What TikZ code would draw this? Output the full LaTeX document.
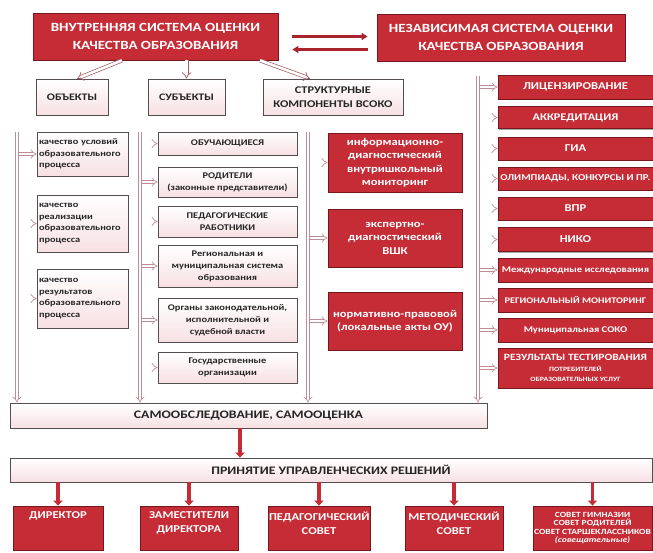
\documentclass[tikz,border=0pt]{standalone}
\usepackage{fontspec}
\setmainfont{Carlito}[FakeStretch=1.2]
\usetikzlibrary{arrows.meta, shadows}

\definecolor{boxred}{RGB}{198,44,54}
\definecolor{boxdark}{RGB}{120,22,30}
\definecolor{pipecol}{RGB}{190,140,150}
\definecolor{pinkbot}{RGB}{247,224,228}
\definecolor{framecol}{RGB}{85,78,80}

\newcommand{\topbox}[2]{\parbox[c][32pt][t]{#1}{\centering #2}}

\tikzset{
  sz/.style 2 args={minimum width=#1pt, minimum height=#2pt, inner sep=1pt},
  redbox/.style={draw=boxdark, line width=0.8pt, fill=boxred, text=white,
    align=center, font=\bfseries,
    drop shadow={shadow xshift=1.2pt, shadow yshift=-1.2pt, fill=black, opacity=0.35}},
  lightbox/.style={draw=framecol, line width=0.8pt, top color=white, bottom color=pinkbot,
    text=black!85, align=center, font=\bfseries,
    drop shadow={shadow xshift=1.2pt, shadow yshift=-1.2pt, fill=boxdark, opacity=0.25}},
  pipe/.style={draw=pipecol, double=white, line width=0.7pt, double distance=2.4pt, -{Implies}},
  hollow/.style={draw=boxdark!70, double=white, line width=0.7pt, double distance=2.6pt, -{Implies}},
  swap/.style={draw=boxred!85!black, line width=3pt, -{Triangle[width=7pt, length=6pt]}},
  down/.style={draw=boxred, line width=3.5pt, -{Triangle[width=9pt, length=5pt]}}
}

\begin{document}
\begin{tikzpicture}[x=1pt, y=-1pt]
\useasboundingbox (0,0) rectangle (653,552);

% top level
\node[redbox, sz={245}{47}, font=\fontsize{12.5}{18}\selectfont\bfseries] (vsoko) at (155.5, 36.5) {ВНУТРЕННЯЯ СИСТЕМА ОЦЕНКИ\\КАЧЕСТВА ОБРАЗОВАНИЯ};
\node[redbox, sz={248}{47}, font=\fontsize{12.5}{18}\selectfont\bfseries] (nsoko) at (501, 37.5) {НЕЗАВИСИМАЯ СИСТЕМА ОЦЕНКИ\\КАЧЕСТВА ОБРАЗОВАНИЯ};
\node[lightbox, sz={72}{36}, font=\fontsize{10}{12}\selectfont\bfseries] (obj) at (72, 97) {ОБЪЕКТЫ};
\node[lightbox, sz={77}{36}, font=\fontsize{10}{12}\selectfont\bfseries] (subj) at (186.5, 97) {СУБЪЕКТЫ};
\node[lightbox, sz={140}{36}, font=\fontsize{10.3}{14}\selectfont\bfseries] (struct) at (333, 97) {СТРУКТУРНЫЕ\\КОМПОНЕНТЫ ВСОКО};

% objects
\node[lightbox, sz={91}{44}, text width=87pt, align=left, font=\fontsize{8.6}{11.5}\selectfont\bfseries] (q1) at (82.5, 154) {качество условий\\образовательного\\процесса};
\node[lightbox, sz={91}{57}, text width=87pt, align=left, font=\fontsize{8.6}{11.5}\selectfont\bfseries] (q2) at (82.5, 223.5) {качество\\реализации\\образовательного\\процесса};
\node[lightbox, sz={91}{59}, text width=87pt, align=left, font=\fontsize{8.6}{11.5}\selectfont\bfseries] (q3) at (82.5, 298.5) {качество\\результатов\\образовательного\\процесса};

% subjects
\node[lightbox, sz={139}{23}, font=\fontsize{8.7}{12}\selectfont\bfseries] (s1) at (227.5, 143.5) {ОБУЧАЮЩИЕСЯ};
\node[lightbox, sz={139}{30}, font=\fontsize{8.7}{12}\selectfont\bfseries] (s2) at (227.5, 182) {РОДИТЕЛИ\\(законные представители)};
\node[lightbox, sz={139}{31}, font=\fontsize{8.7}{12}\selectfont\bfseries] (s3) at (227.5, 221.5) {ПЕДАГОГИЧЕСКИЕ\\РАБОТНИКИ};
\node[lightbox, sz={139}{42}, font=\fontsize{8.7}{12}\selectfont\bfseries] (s4) at (227.5, 266) {Региональная и\\муниципальная система\\образования};
\node[lightbox, sz={139}{44}, font=\fontsize{8.7}{12}\selectfont\bfseries] (s5) at (227.5, 320) {Органы законодательной,\\исполнительной и\\судебной власти};
\node[lightbox, sz={139}{31}, font=\fontsize{8.7}{12}\selectfont\bfseries] (s6) at (227.5, 367.5) {Государственные\\организации};

% structure components
\node[redbox, sz={134}{59}, font=\fontsize{10.5}{13.5}\selectfont\bfseries] (c1) at (395, 162.5) {информационно-\\диагностический\\внутришкольный\\мониторинг};
\node[redbox, sz={134}{58}, font=\fontsize{10.5}{13.5}\selectfont\bfseries] (c2) at (395, 238) {экспертно-\\диагностический\\ВШК};
\node[redbox, sz={134}{58}, font=\fontsize{10.5}{13.5}\selectfont\bfseries] (c3) at (395, 321) {нормативно-правовой\\(локальные акты ОУ)};

% independent assessment
\node[redbox, sz={155}{24}, font=\fontsize{10.5}{12}\selectfont\bfseries] (n1) at (575.5, 87) {ЛИЦЕНЗИРОВАНИЕ};
\node[redbox, sz={155}{22}, font=\fontsize{10.2}{12}\selectfont\bfseries] (n2) at (575.5, 117.5) {АККРЕДИТАЦИЯ};
\node[redbox, sz={155}{23}, font=\fontsize{10.5}{12}\selectfont\bfseries] (n3) at (575.5, 148.5) {ГИА};
\node[redbox, sz={155}{23}, font=\fontsize{9}{12}\selectfont\bfseries] (n4) at (575.5, 178.5) {ОЛИМПИАДЫ, КОНКУРСЫ И ПР.};
\node[redbox, sz={155}{23}, font=\fontsize{10.5}{12}\selectfont\bfseries] (n5) at (575.5, 208.5) {ВПР};
\node[redbox, sz={155}{24}, font=\fontsize{10.5}{12}\selectfont\bfseries] (n6) at (575.5, 239.5) {НИКО};
\node[redbox, sz={155}{24}, font=\fontsize{8.8}{12}\selectfont\bfseries] (n7) at (575.5, 270) {Международные исследования};
\node[redbox, sz={155}{24}, font=\fontsize{8.6}{12}\selectfont\bfseries] (n8) at (575.5, 300) {РЕГИОНАЛЬНЫЙ МОНИТОРИНГ};
\node[redbox, sz={155}{24}, font=\fontsize{8.8}{12}\selectfont\bfseries] (n9) at (575.5, 330) {Муниципальная СОКО};
\node[redbox, sz={155}{40}, font=\fontsize{9.6}{10.5}\selectfont\bfseries] (n10) at (575.5, 368) {РЕЗУЛЬТАТЫ ТЕСТИРОВАНИЯ\\{\fontsize{6.5}{8.5}\selectfont ПОТРЕБИТЕЛЕЙ}\\{\fontsize{6.5}{8.5}\selectfont ОБРАЗОВАТЕЛЬНЫХ УСЛУГ}};

% self-assessment and decisions
\node[lightbox, sz={477}{25}, font=\fontsize{11.5}{13}\selectfont\bfseries] (samo) at (248.5, 415.5) {САМООБСЛЕДОВАНИЕ, САМООЦЕНКА};
\node[lightbox, sz={642}{24}, font=\fontsize{11.5}{13}\selectfont\bfseries] (resh) at (331, 470) {ПРИНЯТИЕ УПРАВЛЕНЧЕСКИХ РЕШЕНИЙ};
\node[redbox, sz={90}{44}, font=\fontsize{10.5}{14}\selectfont\bfseries] (d1) at (58, 528) {\topbox{88pt}{ДИРЕКТОР}};
\node[redbox, sz={98}{44}, font=\fontsize{10.5}{14}\selectfont\bfseries] (d2) at (189, 528) {\topbox{96pt}{ЗАМЕСТИТЕЛИ\\ДИРЕКТОРА}};
\node[redbox, sz={102}{44}, font=\fontsize{10.5}{14}\selectfont\bfseries] (d3) at (319, 528) {\topbox{100pt}{ПЕДАГОГИЧЕСКИЙ\\СОВЕТ}};
\node[redbox, sz={98}{44}, font=\fontsize{10.5}{14}\selectfont\bfseries] (d4) at (454, 528) {\topbox{96pt}{МЕТОДИЧЕСКИЙ\\СОВЕТ}};
\node[redbox, sz={119}{44}, font=\fontsize{7.9}{8.6}\selectfont\bfseries] (d5) at (592.5, 528) {\topbox{117pt}{СОВЕТ ГИМНАЗИИ\\СОВЕТ РОДИТЕЛЕЙ\\СОВЕТ СТАРШЕКЛАССНИКОВ\\\textit{(совещательные)}}};

% pipe tops
\coordinate (p1) at (17, 132);
\coordinate (p2) at (140, 132);
\coordinate (p3) at (308, 132);
\coordinate (p4) at (478, 76);

% feeds
\draw[pipe] (p1 |- q1) -- (q1.west);
\draw[pipe] (p1 |- q2) -- (q2.west);
\draw[pipe] (p1 |- q3) -- (q3.west);
\draw[pipe] (p2 |- s1) -- (s1.west);
\draw[pipe] (p2 |- s2) -- (s2.west);
\draw[pipe] (p2 |- s3) -- (s3.west);
\draw[pipe] (p2 |- s4) -- (s4.west);
\draw[pipe] (p2 |- s5) -- (s5.west);
\draw[pipe] (p2 |- s6) -- (s6.west);
\draw[pipe] (p3 |- c1) -- (c1.west);
\draw[pipe] (p3 |- c2) -- (c2.west);
\draw[pipe] (p3 |- c3) -- (c3.west);
\draw[pipe] (p4 |- n1) -- (n1.west);
\draw[pipe] (p4 |- n2) -- (n2.west);
\draw[pipe] (p4 |- n3) -- (n3.west);
\draw[pipe] (p4 |- n4) -- (n4.west);
\draw[pipe] (p4 |- n5) -- (n5.west);
\draw[pipe] (p4 |- n6) -- (n6.west);
\draw[pipe] (p4 |- n7) -- (n7.west);
\draw[pipe] (p4 |- n8) -- (n8.west);
\draw[pipe] (p4 |- n9) -- (n9.west);
\draw[pipe] (p4 |- n10) -- (n10.west);

% pipes
\draw[pipe] (p1) -- (p1 |- samo.north);
\draw[pipe] (p2) -- (p2 |- samo.north);
\draw[pipe] (p3) -- (p3 |- samo.north);
\draw[pipe] (p4) -- (p4 |- samo.north);

% top arrows
\draw[hollow] ([xshift=-33.5pt]vsoko.south) -- ([xshift=5pt]obj.north);
\draw[hollow] (subj.north |- vsoko.south) -- (subj.north);
\draw[hollow] ([xshift=104.5pt]vsoko.south) -- ([xshift=-23pt]struct.north);
\draw[swap] ([xshift=14pt]vsoko.east) -- ([xshift=-9pt]nsoko.west |- vsoko.east);
\draw[swap] ([xshift=-9pt, yshift=-13pt]nsoko.west |- vsoko.east) -- ([xshift=14pt, yshift=-13pt]vsoko.east);

% decisions
\draw[down] ([xshift=-8.5pt]samo.south) -- ([xshift=-8.5pt]samo.south |- resh.north);
\draw[down] (d1.north |- resh.south) -- (d1.north);
\draw[down] (d2.north |- resh.south) -- (d2.north);
\draw[down] (d3.north |- resh.south) -- (d3.north);
\draw[down] (d4.north |- resh.south) -- (d4.north);
\draw[down] (d5.north |- resh.south) -- (d5.north);
\end{tikzpicture}
\end{document}
